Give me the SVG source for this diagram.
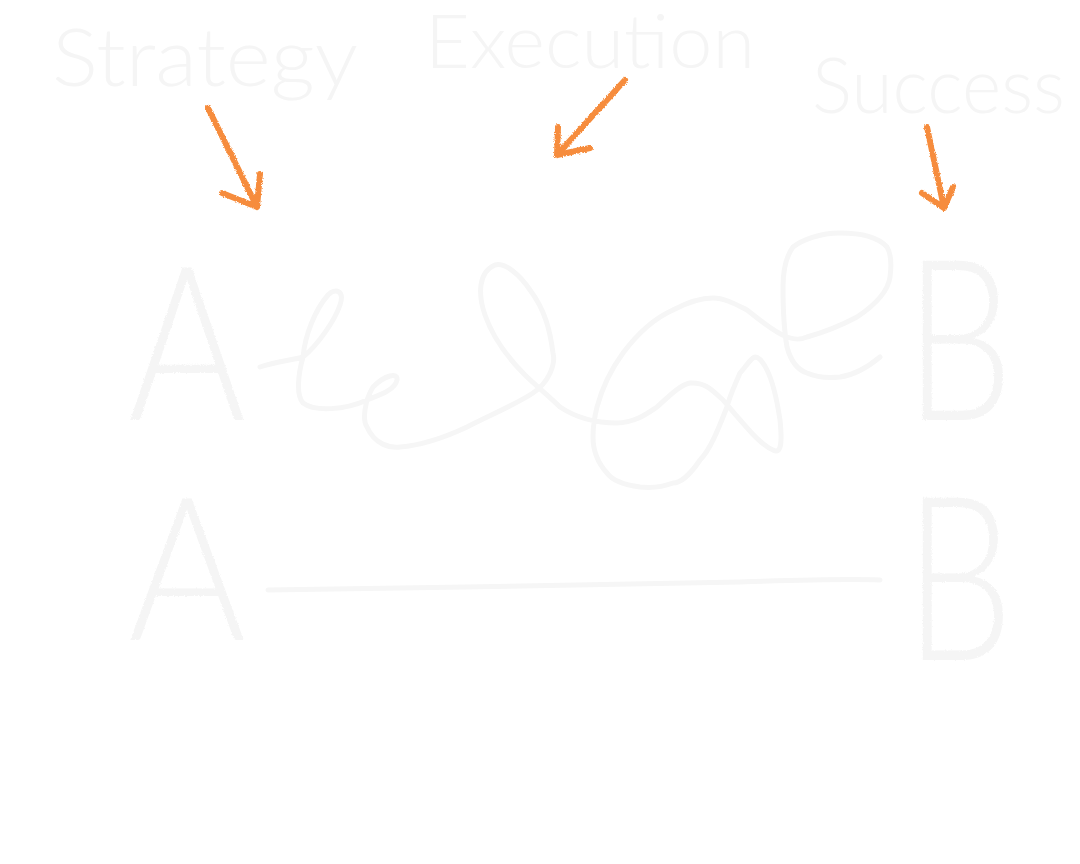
<svg xmlns="http://www.w3.org/2000/svg" width="1080" height="864" viewBox="0 0 1080 864">
  <defs>
    <filter id="chalk" x="-10%" y="-10%" width="120%" height="120%">
      <feTurbulence type="fractalNoise" baseFrequency="0.9" numOctaves="2" seed="3" result="n"/>
      <feDisplacementMap in="SourceGraphic" in2="n" scale="3" xChannelSelector="R" yChannelSelector="G"/>
    </filter>
    <style>
      .label { font-family: Lato, "Open Sans", "Liberation Sans", sans-serif; font-weight: 300; fill: #f5f5f5; }
      .letter { font-family: Lato, "Liberation Sans", sans-serif; font-weight: 300; fill: #f5f5f5; }
      .arrow { fill: none; stroke: #f5822a; stroke-width: 6; stroke-linecap: round; stroke-linejoin: round; opacity: 0.92; }
      .path { fill: none; stroke: #f6f6f6; stroke-width: 5; stroke-linecap: round; stroke-linejoin: round; }
    </style>
  </defs>
  <rect width="1080" height="864" fill="#ffffff"/>

  <g id="label-strategy"><text class="label" x="52" y="86" font-size="80" textLength="306" lengthAdjust="spacingAndGlyphs">Strategy</text></g>
  <g id="label-execution"><text class="label" x="425" y="68" font-size="74" textLength="330" lengthAdjust="spacingAndGlyphs">Execution</text></g>
  <g id="label-success"><text class="label" x="812" y="113" font-size="76" textLength="253" lengthAdjust="spacingAndGlyphs">Success</text></g>

  <g id="node-a1"><text class="letter" x="128" y="420" font-size="215" textLength="118" lengthAdjust="spacingAndGlyphs" filter="url(#chalk)">A</text></g>
  <g id="node-b1"><text class="letter" x="905" y="420" font-size="225" textLength="108" lengthAdjust="spacingAndGlyphs" filter="url(#chalk)">B</text></g>
  <g id="node-a2"><text class="letter" x="128" y="640" font-size="200" textLength="118" lengthAdjust="spacingAndGlyphs" filter="url(#chalk)">A</text></g>
  <g id="node-b2"><text class="letter" x="905" y="660" font-size="229" textLength="108" lengthAdjust="spacingAndGlyphs" filter="url(#chalk)">B</text></g>

  <g id="connectors">
    <path class="path" d="M260,367 C275,362 292,360 303,357 C318,345 335,320 340,305 C345,290 335,288 328,295 C315,310 305,335 303,357 C298,375 296,395 303,403 C315,412 345,410 367,400 C380,395 395,390 397,380 C398,372 385,375 373,387 C365,400 362,420 367,427 C375,445 390,448 400,447 C425,445 450,435 467,427 C490,415 515,405 533,393 C548,383 556,365 553,353 C550,330 545,310 530,290 C520,275 505,262 495,265 C478,272 478,295 485,315 C492,335 505,355 525,375 C535,385 548,395 560,407 C575,417 595,423 617,423 C635,423 648,413 657,407 C670,395 680,385 690,383 C705,382 712,390 723,400 C740,420 760,445 773,450 C782,455 782,440 780,420 C777,400 772,380 767,370 C762,360 757,355 753,358 C748,362 745,368 740,373 C735,385 730,395 727,407 C718,430 710,450 700,460 C690,475 680,483 673,483 C660,488 650,488 640,487 C625,485 612,480 607,473 C597,462 593,450 593,437 C593,425 595,415 597,407 C603,385 612,368 623,353 C638,333 655,318 673,310 C688,302 700,298 713,298 C725,298 737,305 747,310 C760,320 775,333 787,337 C795,340 800,340 807,337 C825,332 842,325 857,317 C875,305 888,292 890,277 C892,262 890,252 887,247 C878,237 860,233 840,233 C820,233 802,240 793,247 C785,258 783,272 783,287 C783,308 784,330 787,347 C791,362 798,370 807,373 C818,378 830,378 840,377 C855,375 868,367 880,357"/>
    <path class="path" d="M268,590 C420,588 600,585 740,582 C800,580 850,579 880,580"/>
    <g id="arrow-strategy" filter="url(#chalk)">
      <path class="arrow" d="M208,108 L257,207 M222,193 L257,207 L260,174"/>
    </g>
    <g id="arrow-execution" filter="url(#chalk)">
      <path class="arrow" d="M625,80 L557,155 M558,127 L557,155 L590,148"/>
    </g>
    <g id="arrow-success" filter="url(#chalk)">
      <path class="arrow" d="M927,127 L944,208 M922,193 L944,208 L953,187"/>
    </g>
  </g>
</svg>
